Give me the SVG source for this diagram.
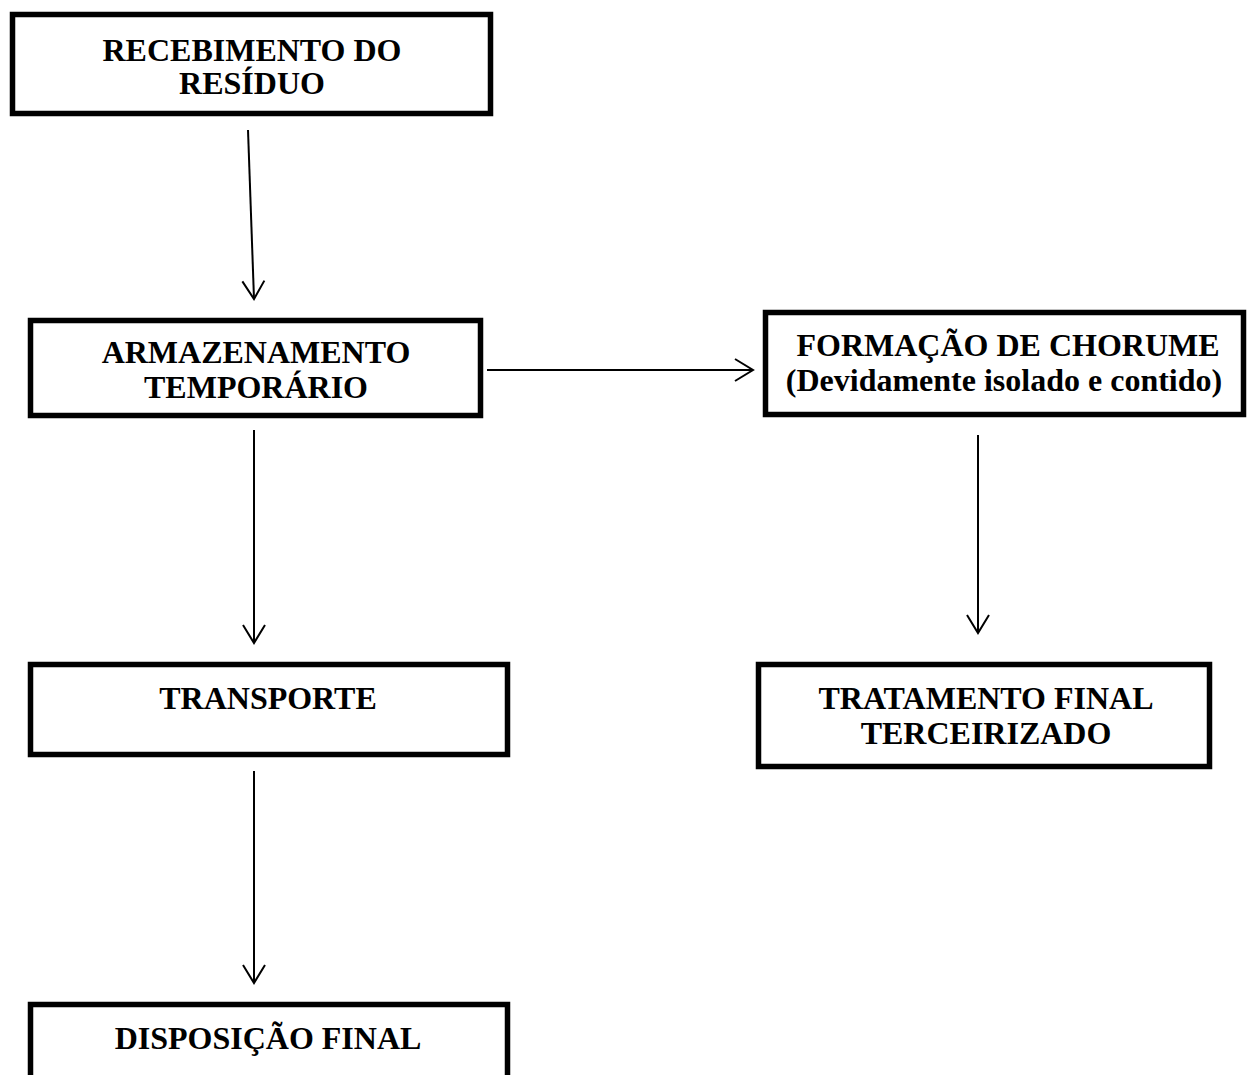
<svg xmlns="http://www.w3.org/2000/svg" width="1248" height="1075" viewBox="0 0 1248 1075">
<style>
.box{fill:#fff;stroke:#000;stroke-width:5.5}
.t{font-family:"Liberation Serif","Times New Roman",serif;font-weight:bold;font-size:32px;fill:#000;text-anchor:middle}
.c{fill:none;stroke:#000;stroke-width:2}
</style>
<defs>
<marker id="ah" viewBox="-20 -13 22 26" markerWidth="22" markerHeight="26" refX="0" refY="0" markerUnits="userSpaceOnUse" orient="auto" overflow="visible">
<path d="M-18,-11 L0,0 L-18,11" fill="none" stroke="#000" stroke-width="2"/>
</marker>
</defs>
<rect width="1248" height="1075" fill="#fff"/>
<g id="connectors">
<line class="c" x1="248" y1="130" x2="254" y2="299" marker-end="url(#ah)"/>
<line class="c" x1="487" y1="370" x2="753" y2="370" marker-end="url(#ah)"/>
<line class="c" x1="254" y1="430" x2="254" y2="643" marker-end="url(#ah)"/>
<line class="c" x1="978" y1="435" x2="978" y2="633" marker-end="url(#ah)"/>
<line class="c" x1="254" y1="771" x2="254" y2="983" marker-end="url(#ah)"/>
</g>
<g id="n1">
<rect class="box" x="12.5" y="14.5" width="478" height="99"/>
<text class="t" x="252" y="61">RECEBIMENTO DO</text>
<text class="t" x="252" y="94">RESÍDUO</text>
</g>
<g id="n2">
<rect class="box" x="30.5" y="320.5" width="450" height="95"/>
<text class="t" x="256" y="363">ARMAZENAMENTO</text>
<text class="t" x="256" y="398">TEMPORÁRIO</text>
</g>
<g id="n3">
<rect class="box" x="765.5" y="312.5" width="478" height="102"/>
<text class="t" x="1008" y="356">FORMAÇÃO DE CHORUME</text>
<text class="t" x="1004" y="391">(Devidamente isolado e contido)</text>
</g>
<g id="n4">
<rect class="box" x="30.5" y="664.5" width="477" height="90"/>
<text class="t" x="268" y="709">TRANSPORTE</text>
</g>
<g id="n5">
<rect class="box" x="758.5" y="664.5" width="451" height="102"/>
<text class="t" x="986" y="709">TRATAMENTO FINAL</text>
<text class="t" x="986" y="744">TERCEIRIZADO</text>
</g>
<g id="n6">
<rect class="box" x="30.5" y="1004.5" width="477" height="100"/>
<text class="t" x="268" y="1049">DISPOSIÇÃO FINAL</text>
</g>
</svg>
